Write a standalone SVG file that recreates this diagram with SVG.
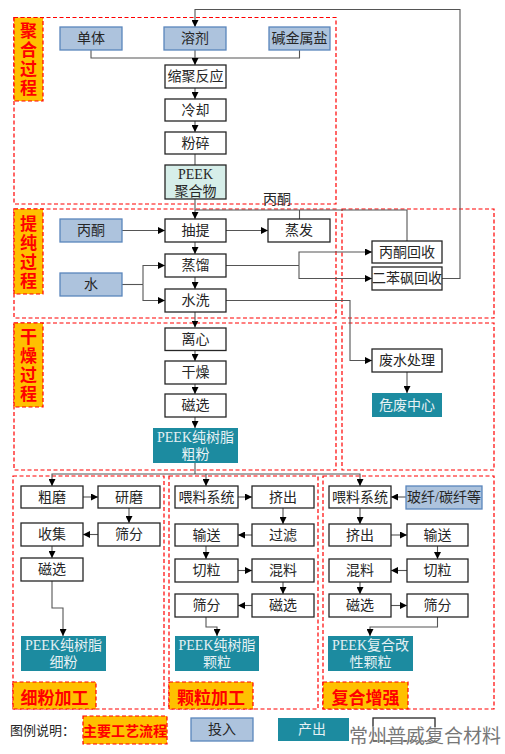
<svg xmlns="http://www.w3.org/2000/svg" width="505" height="754" viewBox="0 0 505 754">
<defs>
<marker id="a" viewBox="0 0 10 10" refX="10" refY="5" markerWidth="7" markerHeight="7" markerUnits="userSpaceOnUse" orient="auto"><path d="M0,0 L10,5 L0,10 z" fill="#000"/></marker>
<style>
.b{fill:#fff;stroke:#262626;stroke-width:1.3}
.in{fill:#adc3dd;stroke:#5a86bc;stroke-width:1.3}
.out{fill:#1c8ba0}
.mint{fill:#d6eee9;stroke:#262626;stroke-width:1.3}
.t{font-family:"Liberation Serif","Noto Sans CJK SC",serif;font-size:14px;fill:#262626;text-anchor:middle;dominant-baseline:central}
.w{fill:#e6f1f4}
.zone{fill:none;stroke:#ff0000;stroke-width:1.2;stroke-dasharray:4 2.5}
.lab{fill:#ffc000;stroke:#ff0000;stroke-width:1.2;stroke-dasharray:4 2.5}
.lt{font-family:"Noto Sans CJK SC",sans-serif;font-size:17px;font-weight:bold;fill:#ff0000;text-anchor:middle;dominant-baseline:central}
.v{writing-mode:vertical-rl;letter-spacing:2px}
.c path{fill:none;stroke:#555;stroke-width:1.1}
.c .ar{marker-end:url(#a)}
</style>
</defs>
<rect width="505" height="754" fill="#fff"/>

<g id="zones">
<rect class="zone" x="14" y="17.5" width="322" height="186.5"/>
<rect class="zone" x="14" y="209" width="322" height="109"/>
<rect class="zone" x="342" y="209" width="152" height="109"/>
<rect class="zone" x="14" y="323" width="322" height="147"/>
<rect class="zone" x="342" y="323" width="152" height="147"/>
<rect class="zone" x="13" y="476" width="151" height="233"/>
<rect class="zone" x="169" y="476" width="149" height="233"/>
<rect class="zone" x="323" y="476" width="171" height="233"/>
</g>

<g id="labels">
<rect class="lab" x="14" y="17.5" width="29" height="83.5"/>
<text class="lt v" x="28.5" y="60">聚合过程</text>
<rect class="lab" x="14" y="209" width="29" height="85"/>
<text class="lt v" x="28.5" y="253">提纯过程</text>
<rect class="lab" x="14" y="323" width="29" height="84"/>
<text class="lt v" x="28.5" y="366">干燥过程</text>
<rect class="lab" x="13" y="682" width="83" height="27"/>
<text class="lt" x="54.5" y="696">细粉加工</text>
<rect class="lab" x="169" y="682" width="84" height="27"/>
<text class="lt" x="211" y="696">颗粒加工</text>
<rect class="lab" x="323" y="682" width="85" height="27"/>
<text class="lt" x="365.5" y="696">复合增强</text>
</g>

<g class="c" id="connectors">
<path d="M91,50 V58 H299.5 V50"/>
<path class="ar" d="M195,50 V65"/>
<path class="ar" d="M195,88 V99"/>
<path class="ar" d="M195,121 V132"/>
<path d="M195,154 V165"/>
<path class="ar" d="M195,199 V219"/>
<path d="M407,241 V210 H195"/>
<path d="M299.5,219 V210"/>
<path class="ar" d="M122,230.5 H165"/>
<path class="ar" d="M226,230.5 H268"/>
<path class="ar" d="M195,242 V254"/>
<path class="ar" d="M195,277 V289"/>
<path d="M122,284.5 H143"/>
<path class="ar" d="M143,284.5 V265.5 H165"/>
<path class="ar" d="M143,284.5 V300.5 H165"/>
<path d="M226,265.5 H299"/>
<path class="ar" d="M299,265.5 V252 H372"/>
<path class="ar" d="M299,265.5 V278.5 H372"/>
<path class="ar" d="M442,278.5 H460 V9.5 H195 V27"/>
<path class="ar" d="M226,300.5 H350 V360.5 H372"/>
<path class="ar" d="M195,312 V327.5"/>
<path class="ar" d="M195,350.5 V361"/>
<path class="ar" d="M195,384 V394"/>
<path class="ar" d="M195,417 V428"/>
<path class="ar" d="M407,372 V393"/>
<path d="M195,463 V474"/>
<path class="ar" d="M195,474 H52 V486"/>
<path class="ar" d="M195,474 H360 V486"/>
<path class="ar" d="M206,474 V486"/>
<path class="ar" d="M83,497 H98"/>
<path class="ar" d="M129,508 V523"/>
<path class="ar" d="M98,534.5 H83"/>
<path class="ar" d="M52,546 V558"/>
<path class="ar" d="M52,581 V608 H63 V636"/>
<path class="ar" d="M238,497 H252"/>
<path class="ar" d="M283,508 V524"/>
<path class="ar" d="M252,535 H238"/>
<path class="ar" d="M206,546 V559"/>
<path class="ar" d="M238,570.5 H252"/>
<path class="ar" d="M283,582 V594"/>
<path class="ar" d="M252,605.5 H238"/>
<path class="ar" d="M206,617 V627 H217 V636"/>
<path class="ar" d="M406,497 H391"/>
<path class="ar" d="M360,508 V524"/>
<path class="ar" d="M391,535 H407"/>
<path class="ar" d="M437.5,546 V559"/>
<path class="ar" d="M407,570.5 H391"/>
<path class="ar" d="M360,582 V594"/>
<path class="ar" d="M391,605.5 H407"/>
<path class="ar" d="M437.5,617 V627 H370 V636"/>
</g>
<text class="t" x="277" y="199">丙酮</text>

<g id="n-danti"><rect class="in" x="60" y="27" width="62" height="23"/><text class="t" x="91" y="38.5">单体</text></g>
<g id="n-rongji"><rect class="in" x="164" y="27" width="62" height="23"/><text class="t" x="195" y="38.5">溶剂</text></g>
<g id="n-jian"><rect class="in" x="269" y="27" width="61" height="23"/><text class="t" x="299.5" y="38.5">碱金属盐</text></g>
<g id="n-suoju"><rect class="b" x="165" y="65" width="61" height="23"/><text class="t" x="195.5" y="76.5">缩聚反应</text></g>
<g id="n-lengque"><rect class="b" x="165" y="99" width="61" height="22"/><text class="t" x="195.5" y="110">冷却</text></g>
<g id="n-fensui"><rect class="b" x="165" y="132" width="61" height="22"/><text class="t" x="195.5" y="143">粉碎</text></g>
<g id="n-peek1"><rect class="mint" x="165" y="165" width="61" height="34"/><text class="t" x="195.5" y="174">PEEK</text><text class="t" x="195.5" y="191">聚合物</text></g>

<g id="n-bingtong"><rect class="in" x="60" y="219" width="62" height="23"/><text class="t" x="91" y="230.5">丙酮</text></g>
<g id="n-chouti"><rect class="b" x="165" y="219" width="61" height="23"/><text class="t" x="195.5" y="230.5">抽提</text></g>
<g id="n-zhengfa"><rect class="b" x="268" y="219" width="62" height="23"/><text class="t" x="299" y="230.5">蒸发</text></g>
<g id="n-zhengliu"><rect class="b" x="165" y="254" width="61" height="23"/><text class="t" x="195.5" y="265.5">蒸馏</text></g>
<g id="n-shuixi"><rect class="b" x="165" y="289" width="61" height="23"/><text class="t" x="195.5" y="300.5">水洗</text></g>
<g id="n-shui"><rect class="in" x="60" y="273" width="62" height="23"/><text class="t" x="91" y="284.5">水</text></g>
<g id="n-bths"><rect class="b" x="372" y="241" width="70" height="22"/><text class="t" x="407" y="252">丙酮回收</text></g>
<g id="n-ebfhs"><rect class="b" x="372" y="267" width="70" height="23"/><text class="t" x="407" y="278.5">二苯砜回收</text></g>

<g id="n-lixin"><rect class="b" x="165" y="328" width="61" height="22.5"/><text class="t" x="195.5" y="339">离心</text></g>
<g id="n-ganzao"><rect class="b" x="165" y="361" width="61" height="23"/><text class="t" x="195.5" y="372.5">干燥</text></g>
<g id="n-cixuan1"><rect class="b" x="165" y="394" width="61" height="23"/><text class="t" x="195.5" y="405.5">磁选</text></g>
<g id="n-cufen"><rect class="out" x="153" y="428" width="85" height="35"/><text class="t w" x="195.5" y="437">PEEK纯树脂</text><text class="t w" x="195.5" y="454">粗粉</text></g>
<g id="n-feishui"><rect class="b" x="372" y="349" width="70" height="23"/><text class="t" x="407" y="360.5">废水处理</text></g>
<g id="n-weifei"><rect class="out" x="372" y="393" width="70" height="24"/><text class="t w" x="407" y="405">危废中心</text></g>

<g id="n-cumo"><rect class="b" x="21" y="486" width="62" height="22"/><text class="t" x="52" y="497">粗磨</text></g>
<g id="n-yanmo"><rect class="b" x="98" y="486" width="62" height="22"/><text class="t" x="129" y="497">研磨</text></g>
<g id="n-shaifen1"><rect class="b" x="98" y="523" width="62" height="23"/><text class="t" x="129" y="534.5">筛分</text></g>
<g id="n-shouji"><rect class="b" x="21" y="523" width="62" height="23"/><text class="t" x="52" y="534.5">收集</text></g>
<g id="n-cixuan2"><rect class="b" x="21" y="558" width="62" height="23"/><text class="t" x="52" y="569.5">磁选</text></g>
<g id="n-xifen"><rect class="out" x="21" y="636" width="85" height="35"/><text class="t w" x="63.5" y="645">PEEK纯树脂</text><text class="t w" x="63.5" y="662">细粉</text></g>

<g id="n-weiliao2"><rect class="b" x="175" y="486" width="63" height="22"/><text class="t" x="206.5" y="497">喂料系统</text></g>
<g id="n-jichu2"><rect class="b" x="252" y="486" width="62" height="22"/><text class="t" x="283" y="497">挤出</text></g>
<g id="n-guolv"><rect class="b" x="252" y="524" width="62" height="22"/><text class="t" x="283" y="535">过滤</text></g>
<g id="n-shusong2"><rect class="b" x="175" y="524" width="63" height="22"/><text class="t" x="206.5" y="535">输送</text></g>
<g id="n-qieli2"><rect class="b" x="175" y="559" width="63" height="23"/><text class="t" x="206.5" y="570.5">切粒</text></g>
<g id="n-hunliao2"><rect class="b" x="252" y="559" width="62" height="23"/><text class="t" x="283" y="570.5">混料</text></g>
<g id="n-shaifen2"><rect class="b" x="175" y="594" width="63" height="23"/><text class="t" x="206.5" y="605.5">筛分</text></g>
<g id="n-cixuan3"><rect class="b" x="252" y="594" width="62" height="23"/><text class="t" x="283" y="605.5">磁选</text></g>
<g id="n-keli"><rect class="out" x="175" y="636" width="84" height="35"/><text class="t w" x="217" y="645">PEEK纯树脂</text><text class="t w" x="217" y="662">颗粒</text></g>

<g id="n-weiliao3"><rect class="b" x="329" y="486" width="62" height="22"/><text class="t" x="360" y="497">喂料系统</text></g>
<g id="n-boxian"><rect class="in" x="406" y="486" width="76" height="23"/><text class="t" x="444" y="497.5">玻纤/碳纤等</text></g>
<g id="n-jichu3"><rect class="b" x="329" y="524" width="62" height="22"/><text class="t" x="360" y="535">挤出</text></g>
<g id="n-shusong3"><rect class="b" x="407" y="524" width="61" height="22"/><text class="t" x="437.5" y="535">输送</text></g>
<g id="n-hunliao3"><rect class="b" x="329" y="559" width="62" height="23"/><text class="t" x="360" y="570.5">混料</text></g>
<g id="n-qieli3"><rect class="b" x="407" y="559" width="61" height="23"/><text class="t" x="437.5" y="570.5">切粒</text></g>
<g id="n-cixuan4"><rect class="b" x="329" y="594" width="62" height="23"/><text class="t" x="360" y="605.5">磁选</text></g>
<g id="n-shaifen3"><rect class="b" x="407" y="594" width="61" height="23"/><text class="t" x="437.5" y="605.5">筛分</text></g>
<g id="n-fuhe"><rect class="out" x="328" y="636" width="85" height="35"/><text class="t w" x="370.5" y="645">PEEK复合改</text><text class="t w" x="370.5" y="662">性颗粒</text></g>

<g id="legend">
<text class="t" x="10" y="730" style="text-anchor:start;font-size:13px">图例说明：</text>
<rect class="lab" x="83" y="716" width="84" height="28"/>
<text class="lt" x="125" y="730" style="font-size:14px">主要工艺流程</text>
<rect class="in" x="191" y="718" width="62" height="23"/>
<text class="t" x="222" y="729.5">投入</text>
<rect class="out" x="278" y="718" width="71" height="23"/>
<text class="t w" x="312" y="729.5">产出</text>
<rect class="b" x="373" y="718" width="62" height="23"/>
<text x="349" y="734" style="font-family:'Noto Sans CJK SC',sans-serif;font-size:19px;fill:#777;stroke:#fff;stroke-width:0.8;paint-order:stroke;dominant-baseline:central">常州普威复合材料</text>
</g>
</svg>
